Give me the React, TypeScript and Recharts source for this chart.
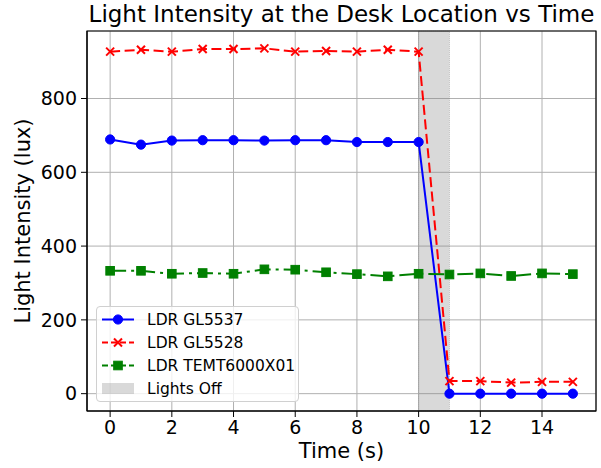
import React from 'react';
import {
  ComposedChart,
  Line,
  XAxis,
  YAxis,
  CartesianGrid,
  ReferenceArea,
  Legend
} from 'recharts';

const time = [0, 1, 2, 3, 4, 5, 6, 7, 8, 9, 10, 11, 12, 13, 14, 15];
const gl5537 = [689, 675, 686, 687, 687, 686, 687, 687, 682, 682, 682, 0, 0, 0, 0, 0];
const gl5528 = [927, 932, 927, 934, 934, 936, 927, 929, 927, 932, 927, 34, 34, 30, 32, 32];
const temt = [333, 333, 325, 327, 325, 337, 336, 329, 324, 318, 325, 323, 326, 319, 326, 324];

const xTicks = [0, 2, 4, 6, 8, 10, 12, 14];
const yTicks = [0, 200, 400, 600, 800];
const xDomain = [-0.75, 15.75];
const yDomain = [-47, 983];
const lightsOff = [10, 11];

const data = time.map((t, i) => ({ t, gl5537: gl5537[i], gl5528: gl5528[i], temt: temt[i] }));

const series = [
  { key: 'gl5537', name: 'LDR GL5537', color: '#0000ff', dash: undefined, marker: 'circle' },
  { key: 'gl5528', name: 'LDR GL5528', color: '#ff0000', dash: '10 4.5', marker: 'x' },
  { key: 'temt', name: 'LDR TEMT6000X01', color: '#008000', dash: '16 5 3 5', marker: 'square' }
];

const FONT = '"DejaVu Sans", sans-serif';

const Marker = ({ shape, cx, cy, color }: any) => {
  if (cx == null || cy == null) return null;
  if (shape === 'circle') return <circle cx={cx} cy={cy} r={4.6} fill={color} stroke={color} />;
  if (shape === 'square')
    return <rect x={cx - 4.3} y={cy - 4.3} width={8.6} height={8.6} fill={color} stroke={color} />;
  const s = 4;
  return (
    <g stroke={color} strokeWidth={2}>
      <line x1={cx - s} y1={cy - s} x2={cx + s} y2={cy + s} />
      <line x1={cx - s} y1={cy + s} x2={cx + s} y2={cy - s} />
    </g>
  );
};

const LegendBox = () => (
  <div
    style={{
      width: 203,
      height: 96,
      boxSizing: 'border-box',
      border: '1px solid #d0d0d0',
      borderRadius: 4,
      background: 'rgba(255,255,255,0.8)',
      paddingTop: 1,
      fontFamily: FONT,
      fontSize: 15.5,
      color: '#000'
    }}>
    {series.map((s) => (
      <div key={s.key} style={{ display: 'flex', alignItems: 'center', height: 23 }}>
        <svg width={50} height={23}>
          <line x1={5} y1={11.5} x2={37} y2={11.5} stroke={s.color} strokeWidth={2} strokeDasharray={s.dash ? '6 3' : undefined} />
          <Marker shape={s.marker} cx={21} cy={11.5} color={s.color} />
        </svg>
        <span>{s.name}</span>
      </div>
    ))}
    <div style={{ display: 'flex', alignItems: 'center', height: 23 }}>
      <svg width={50} height={23}>
        <rect x={5} y={6} width={32} height={11} fill="#808080" fillOpacity={0.3} />
      </svg>
      <span>Lights Off</span>
    </div>
  </div>
);

export default function App() {
  const tickStyle = { fontFamily: FONT, fontSize: 19, fill: '#000' };
  return (
    <div style={{ position: 'absolute', left: 0, top: 0, width: 601, height: 468 }}>
      <ComposedChart
        width={601}
        height={468}
        data={data}
        margin={{ top: 31, right: 5, bottom: 0, left: 0 }}>
        <CartesianGrid stroke="#b0b0b0" strokeWidth={1} />
        <ReferenceArea
          x1={lightsOff[0]}
          x2={lightsOff[1]}
          fill="#808080"
          fillOpacity={0.3}
          stroke="#808080"
          strokeOpacity={0.4}
          strokeDasharray="1 1"
        />
        <XAxis
          dataKey="t"
          type="number"
          domain={xDomain}
          ticks={xTicks}
          allowDataOverflow
          height={57}
          tickSize={6}
          tickMargin={4}
          tick={tickStyle}
          stroke="#000"
          label={{ value: 'Time (s)', position: 'insideBottom', offset: 10, style: { fontFamily: FONT, fontSize: 21, fill: '#000' } }}
        />
        <YAxis
          type="number"
          domain={yDomain}
          ticks={yTicks}
          allowDataOverflow
          width={87}
          tickSize={6}
          tickMargin={4}
          tick={tickStyle}
          stroke="#000"
          label={{
            value: 'Light Intensity (lux)',
            angle: -90,
            position: 'insideLeft',
            offset: 23,
            style: { textAnchor: 'middle', fontFamily: FONT, fontSize: 21, fill: '#000' }
          }}
        />
        <ReferenceArea x1={xDomain[0]} x2={xDomain[1]} y1={yDomain[0]} y2={yDomain[1]} fill="none" stroke="#000" strokeWidth={1.2} />
        {series.map((s) => (
          <Line
            key={s.key}
            dataKey={s.key}
            name={s.name}
            type="linear"
            stroke={s.color}
            strokeWidth={2}
            strokeDasharray={s.dash}
            isAnimationActive={false}
            activeDot={false}
            dot={(p: any) => <Marker key={`${s.key}-${p.index}`} shape={s.marker} cx={p.cx} cy={p.cy} color={s.color} />}
          />
        ))}
        <Legend
          layout="horizontal"
          verticalAlign="middle"
          align="center"
          content={() => <LegendBox />}
          wrapperStyle={{ left: 96, top: 306, width: 203, height: 96 }}
        />
      </ComposedChart>
      <svg width={601} height={40} style={{ position: 'absolute', left: 0, top: 0, pointerEvents: 'none' }}>
        <text x={341.5} y={22} textAnchor="middle" fontFamily={FONT} fontSize={23} fill="#000">
          Light Intensity at the Desk Location vs Time
        </text>
      </svg>
    </div>
  );
}
